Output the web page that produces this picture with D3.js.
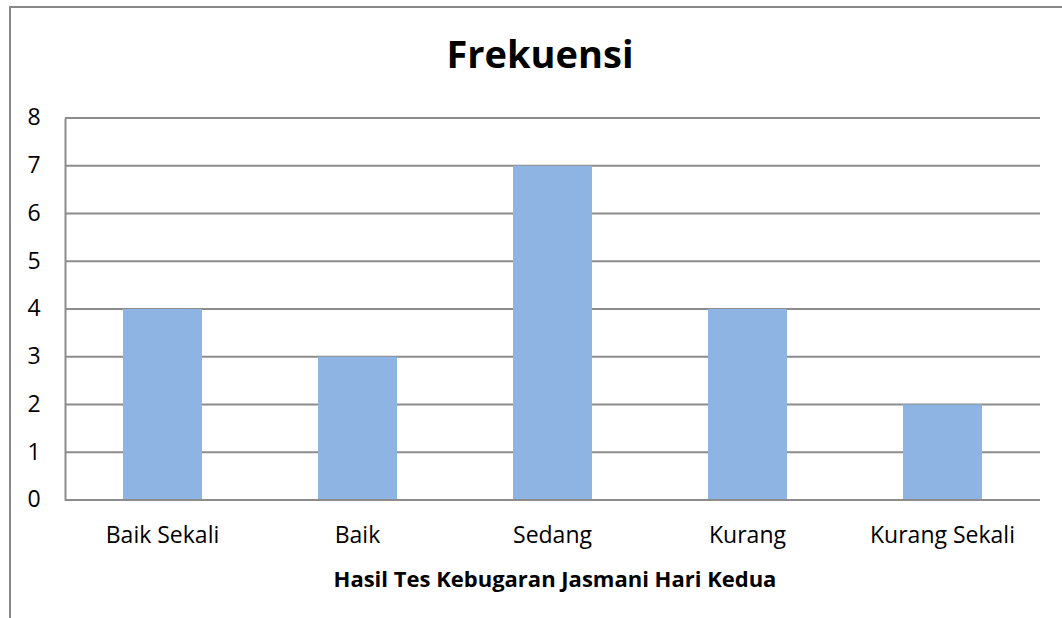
<!DOCTYPE html>
<html>
<head>
<meta charset="utf-8">
<script src="https://cdn.jsdelivr.net/npm/d3@7"></script>
<style>
  html, body { margin: 0; padding: 0; background: #fff; }
  svg { display: block; }
  text { font-family: "Open Sans", sans-serif; fill: #000; }
</style>
</head>
<body>
<svg id="chart" width="1062" height="618"></svg>
<script>
const categories = ["Baik Sekali", "Baik", "Sedang", "Kurang", "Kurang Sekali"];
const values = [4, 3, 7, 4, 2];
const yTicks = [0, 1, 2, 3, 4, 5, 6, 7, 8];
const chartTitle = "Frekuensi";
const xAxisTitle = "Hasil Tes Kebugaran Jasmani Hari Kedua";

const svg = d3.select("#chart");
const W = 1062, H = 618;
const plot = { left: 65, right: 1040, top: 118, bottom: 500 };

// outer frame
svg.append("path")
  .attr("d", `M10,${H} L10,7 L${W},7`)
  .attr("fill", "none").attr("stroke", "#888").attr("stroke-width", 2);

const x = d3.scaleBand().domain(categories).range([plot.left, plot.right]).paddingInner(0.595).paddingOuter(0.2975);
const y = d3.scaleLinear().domain([0, 8]).range([plot.bottom, plot.top]);

// gridlines
svg.append("g").selectAll("line").data(yTicks.filter(d => d > 0)).join("line")
  .attr("x1", plot.left).attr("x2", plot.right)
  .attr("y1", d => y(d)).attr("y2", d => y(d))
  .attr("stroke", "#8c8c8c").attr("stroke-width", 2);

// bars
svg.append("g").selectAll("rect").data(values).join("rect")
  .attr("x", (d, i) => x(categories[i]))
  .attr("y", d => y(d))
  .attr("width", x.bandwidth())
  .attr("height", d => y(0) - y(d))
  .attr("fill", "#8eb4e3");

// y axis
const yAxis = d3.axisLeft(y).tickValues(yTicks).tickSize(0).tickPadding(28).tickFormat(d3.format("d"));
const gy = svg.append("g").attr("transform", `translate(${plot.left},0)`).call(yAxis);
gy.select(".domain").attr("stroke", "#8c8c8c").attr("stroke-width", 2);
gy.selectAll("text").attr("font-size", 23).attr("font-family", "'Open Sans', sans-serif")
  .attr("text-anchor", "middle").attr("x", -31).attr("dy", "0.3em");

// x axis
const xAxis = d3.axisBottom(x).tickSize(0).tickPadding(27);
const gx = svg.append("g").attr("transform", `translate(0,${plot.bottom})`).call(xAxis);
gx.select(".domain").attr("stroke", "#8c8c8c").attr("stroke-width", 2)
  .attr("d", `M${plot.left},0H${plot.right}`);
gx.selectAll("text").attr("font-size", 23).attr("font-family", "'Open Sans', sans-serif");

// titles
svg.append("text").attr("x", 540).attr("y", 68).attr("text-anchor", "middle")
  .attr("font-size", 38).attr("font-weight", "bold").text(chartTitle);
svg.append("text").attr("x", 555).attr("y", 587).attr("text-anchor", "middle")
  .attr("font-size", 22).attr("font-weight", "bold").text(xAxisTitle);
</script>
</body>
</html>
